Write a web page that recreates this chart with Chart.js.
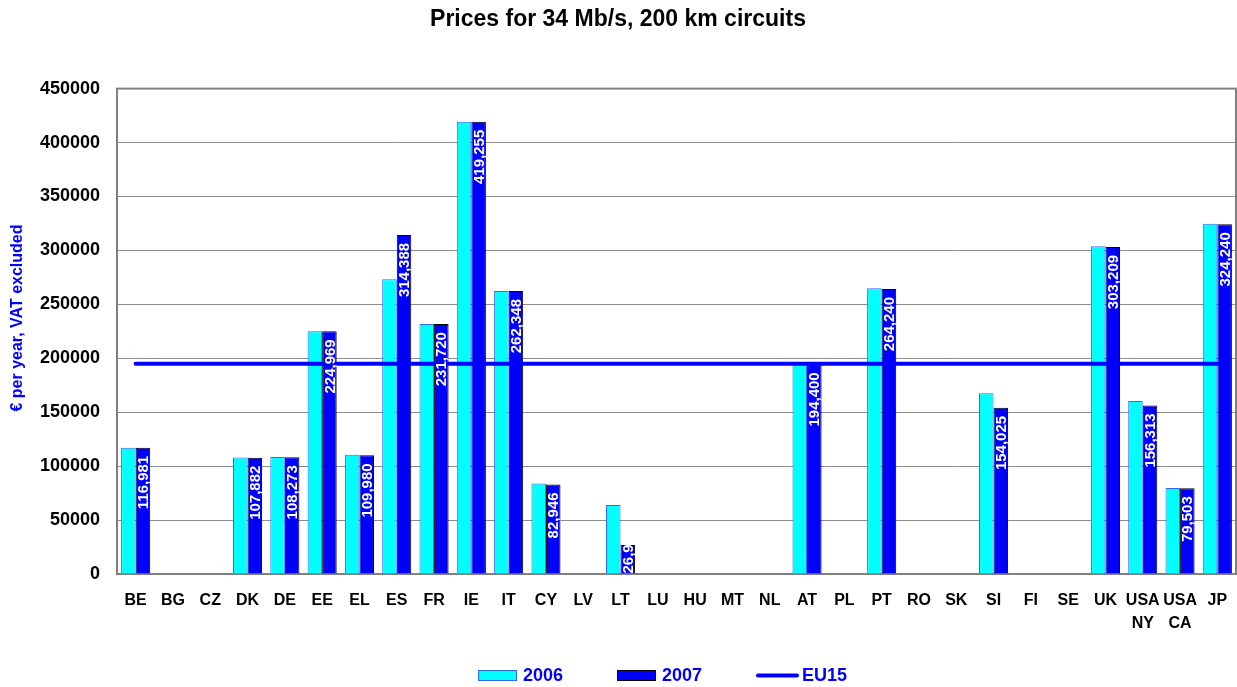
<!DOCTYPE html>
<html>
<head>
<meta charset="utf-8">
<script src="https://cdn.jsdelivr.net/npm/chart.js@4/dist/chart.umd.min.js"></script>
<style>
html,body{margin:0;padding:0;background:#fff;}
#wrap{width:1237px;height:687px;position:relative;}
</style>
</head>
<body>
<div id="wrap"><canvas id="c" width="1237" height="687"></canvas></div>
<script>
// ---- data ----
const categories = ['BE','BG','CZ','DK','DE','EE','EL','ES','FR','IE','IT','CY','LV','LT','LU','HU','MT','NL','AT','PL','PT','RO','SK','SI','FI','SE','UK',['USA','NY'],['USA','CA'],'JP'];
const prices2006 = [117000,null,null,108000,108500,225000,110500,273300,231700,419300,262300,84000,null,64000,null,null,null,null,194400,null,264800,null,null,167600,null,null,303800,160400,79700,324800];
const prices2007 = [116981,null,null,107882,108273,224969,109980,314388,231720,419255,262348,82946,null,26900,null,null,null,null,194400,null,264240,null,null,154025,null,null,303209,156313,79503,324240];
const eu15 = [195000,195000,195000,195000,195000,195000,195000,195000,195000,195000,195000,195000,195000,195000,195000,195000,195000,195000,195000,195000,195000,195000,195000,195000,195000,195000,195000,195000,195000,195000];
const seriesNames = ['2006','2007','EU15'];
const yMin = 0, yMax = 450000, yStep = 50000;
const titleText = 'Prices for 34 Mb/s, 200 km circuits';
const yTitleText = '€ per year, VAT excluded';

const FONT = "'Liberation Sans', Arial, Helvetica, sans-serif";

const frame = {
  id: 'frame',
  beforeDatasetsDraw(chart) {
    const {ctx, chartArea: a} = chart;
    ctx.save();
    ctx.strokeStyle = '#808080';
    ctx.lineWidth = 2;
    ctx.strokeRect(a.left, a.top, a.right - a.left, a.bottom - a.top);
    ctx.restore();
  }
};

const valueLabels = {
  id: 'valueLabels',
  afterDatasetsDraw(chart) {
    const ctx = chart.ctx;
    const meta = chart.getDatasetMeta(1);
    ctx.save();
    ctx.font = 'bold 15px ' + FONT;
    ctx.fillStyle = '#ffffff';
    ctx.textBaseline = 'middle';
    meta.data.forEach((bar, i) => {
      const v = prices2007[i];
      if (v == null) return;
      const txt = v.toLocaleString('en-US');
      const w = ctx.measureText(txt).width;
      let endY = bar.y + 8;
      if (endY + w > bar.base) endY = bar.base - w;
      ctx.save();
      ctx.translate(bar.x + 1, endY);
      ctx.rotate(-Math.PI / 2);
      ctx.textAlign = 'right';
      ctx.fillText(txt, 0, 0);
      ctx.restore();
    });
    ctx.restore();
  }
};

const yTitle = {
  id: 'yTitle',
  afterDraw(chart) {
    const ctx = chart.ctx;
    ctx.save();
    ctx.translate(18, 318);
    ctx.rotate(-Math.PI / 2);
    ctx.font = 'bold 16px ' + FONT;
    ctx.fillStyle = '#0000ff';
    ctx.textAlign = 'center';
    ctx.textBaseline = 'middle';
    ctx.fillText(yTitleText, 0, 0);
    ctx.restore();
  }
};

const bottomLegend = {
  id: 'bottomLegend',
  afterDraw(chart) {
    const ctx = chart.ctx;
    const ds = chart.data.datasets;
    const cy = 675.5;
    const items = [{x: 478, i: 0}, {x: 617, i: 1}, {x: 756, i: 2}];
    ctx.save();
    ctx.font = 'bold 18px ' + FONT;
    ctx.textBaseline = 'middle';
    ctx.textAlign = 'left';
    items.forEach(it => {
      const d = ds[it.i];
      if (d.type === 'line') {
        ctx.strokeStyle = d.borderColor;
        ctx.lineWidth = 4;
        ctx.lineCap = 'round';
        ctx.beginPath();
        ctx.moveTo(it.x + 2, cy);
        ctx.lineTo(it.x + 41, cy);
        ctx.stroke();
        ctx.fillStyle = '#0000ff';
        ctx.fillText(d.label, it.x + 46, cy + 1);
      } else {
        ctx.fillStyle = d.backgroundColor;
        ctx.fillRect(it.x, cy - 5.5, 39, 11);
        ctx.strokeStyle = d.borderColor;
        ctx.lineWidth = 1;
        ctx.strokeRect(it.x + 0.5, cy - 5, 38, 10);
        ctx.fillStyle = '#0000ff';
        ctx.fillText(d.label, it.x + 45, cy + 1);
      }
    });
    ctx.restore();
  }
};

new Chart(document.getElementById('c'), {
  type: 'bar',
  data: {
    labels: categories,
    datasets: [
      {label: seriesNames[0], data: prices2006, backgroundColor: '#00ffff', borderColor: '#3366ff', borderWidth: 1,
       categoryPercentage: 0.78, barPercentage: 1.0},
      {label: seriesNames[1], data: prices2007, backgroundColor: '#0000ff', borderColor: '#000000', borderWidth: 1,
       categoryPercentage: 0.78, barPercentage: 1.0},
      {type: 'line', label: seriesNames[2], data: eu15, borderColor: '#0000ff', backgroundColor: '#0000ff',
       borderWidth: 4, pointRadius: 0, borderCapStyle: 'round', fill: false, order: -1, tension: 0}
    ]
  },
  options: {
    responsive: false,
    animation: false,
    devicePixelRatio: 1,
    layout: {padding: {left: 0, right: 1, top: 0, bottom: 52}},
    plugins: {
      legend: {display: false},
      tooltip: {enabled: false},
      title: {display: true, text: titleText, color: '#000000',
        font: {family: FONT, size: 23, weight: 'bold'}, padding: {top: 6, bottom: 55}}
    },
    scales: {
      x: {
        offset: true,
        grid: {display: false, drawTicks: false},
        border: {color: '#808080', width: 2},
        ticks: {autoSkip: false, maxRotation: 0, minRotation: 0, padding: 15, color: '#000000',
          font: {family: FONT, size: 16, weight: 'bold', lineHeight: 1.45}},
        afterFit(s) { s.height = 61; s.paddingLeft = 0; s.paddingRight = 0; }
      },
      y: {
        min: yMin, max: yMax,
        grid: {color: '#8c8c8c', lineWidth: 1, drawTicks: false},
        border: {color: '#808080', width: 2},
        ticks: {stepSize: yStep, padding: 17, color: '#000000',
          font: {family: FONT, size: 18, weight: 'bold'}, callback: v => String(v)},
        afterFit(s) { s.width = 117; s.paddingTop = 0; s.paddingBottom = 0; }
      }
    }
  },
  plugins: [frame, valueLabels, yTitle, bottomLegend]
});
</script>
</body>
</html>
